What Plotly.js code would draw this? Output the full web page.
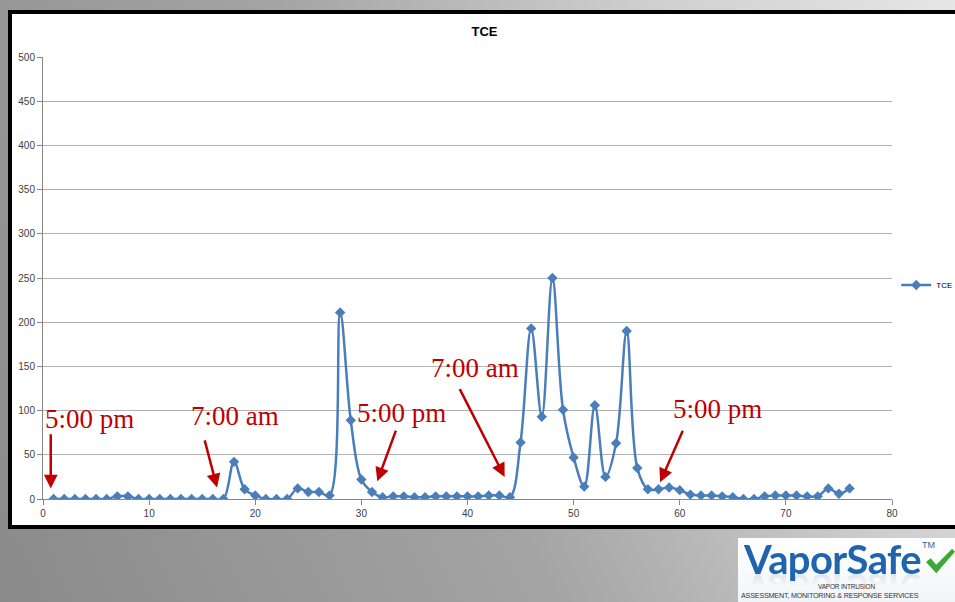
<!DOCTYPE html>
<html><head><meta charset="utf-8">
<script src="https://cdn.plot.ly/plotly-3.0.1.min.js"></script>
<style>
html,body{margin:0;padding:0;width:955px;height:602px;overflow:hidden}
body{position:relative;background:linear-gradient(65deg,#8a8a8a 0%,#a4a4a4 45%,#cfcfcf 75%,#e6e6e6 100%);font-family:"Liberation Sans",Arial,sans-serif}
#box{position:absolute;left:8px;top:10px;width:970px;height:511px;background:#fff;border:4px solid #000}
#chart{position:absolute;left:0;top:0;width:955px;height:602px}
#logo{position:absolute;left:738px;top:538px;width:217px;height:64px;background:linear-gradient(#ffffff,#f2f5f8)}
#logo .vs{position:absolute;left:6px;top:-3px;line-height:normal;font-size:40px;font-family:Lato,sans-serif;font-weight:bold;white-space:nowrap;letter-spacing:-0.6px;color:#1f64ad;
  -webkit-box-reflect:below -18px linear-gradient(transparent 55%, rgba(255,255,255,0.22))}
#logo .tm{position:absolute;left:184px;top:2px;font-size:9px;line-height:10px;color:#1f64ad}
#logo .l1{position:absolute;left:0;width:217px;text-align:center;top:45px;font-size:6.5px;line-height:7px;color:#333;letter-spacing:-0.2px}
#logo .l2{position:absolute;left:3px;top:54px;font-size:7.2px;line-height:8px;color:#333;white-space:nowrap;letter-spacing:-0.2px}
#logo svg{position:absolute;left:186px;top:9px}
</style></head>
<body>
<div id="box"></div>
<div id="chart"></div>
<div id="logo">
  <div class="vs">VaporSafe</div>
  <div class="tm">TM</div>
  <svg width="32" height="28" viewBox="0 0 34 30"><path d="M2 16 L7 12 L13 19 L30 2 L33 5 L13 28 Z" fill="#3aa935"/></svg>
  <div class="l1">VAPOR INTRUSION</div>
  <div class="l2">ASSESSMENT, MONITORING &amp; RESPONSE SERVICES</div>
</div>
<script>
var sampleIndex = [1,2,3,4,5,6,7,8,9,10,11,12,13,14,15,16,17,18,19,20,21,22,23,24,25,26,27,28,29,30,31,32,33,34,35,36,37,38,39,40,41,42,43,44,45,46,47,48,49,50,51,52,53,54,55,56,57,58,59,60,61,62,63,64,65,66,67,68,69,70,71,72,73,74,75,76];
var tceValues = [0,0,0,0,0,0,3,3,0,0,0,0,0,0,0,0,0,42,11,4,0,0,0,12,8,8,4,211,89,22,8,2,3,3,2,2,3,3,3,3,3,4,4,2,64,193,93,250,101,47,14,106,25,63,190,35,11,11,13,10,5,4,4,3,2,0,0,3,4,4,4,3,3,12,6,12];

var labelTexts = ["5:00 pm","7:00 am","5:00 pm","7:00 am","5:00 pm"];
var labelX = [4.4,18.1,33.8,40.7,63.6];
var labelY = [91,94,97,148,102];
var arrowTailX = [0.73,15.2,33.3,39.2,60.35];
var arrowTailY = [75,68,79,126,79];
var arrowHeadX = [0.73,16.4,31.5,43.5,58.15];
var arrowHeadY = [12,13,20,25,19];

var annots = [];
for (var i=0;i<labelTexts.length;i++){
  annots.push({x:labelX[i],y:labelY[i],xref:'x',yref:'y',text:labelTexts[i],showarrow:false,
    font:{family:'"Liberation Serif","Times New Roman",serif',size:27,color:'#c00000'},xanchor:'center',yanchor:'middle'});
  annots.push({x:arrowHeadX[i],y:arrowHeadY[i],xref:'x',yref:'y',ax:arrowTailX[i],ay:arrowTailY[i],axref:'x',ayref:'y',
    text:'',showarrow:true,arrowhead:2,arrowsize:1.1,arrowwidth:2.5,arrowcolor:'#c00000'});
}

var trace = {x:sampleIndex,y:tceValues,type:'scatter',mode:'lines+markers',name:'TCE',
  line:{color:'#4a7ebb',width:2.5,shape:'spline',smoothing:1},
  marker:{symbol:'diamond',size:8,color:'#4a7ebb'}};

var layout = {width:955,height:602,autosize:false,
  margin:{l:43,r:63,t:57,b:103,autoexpand:false},
  paper_bgcolor:'rgba(0,0,0,0)',plot_bgcolor:'rgba(0,0,0,0)',
  title:{text:'<b>TCE</b>',x:0.52,xref:'paper',xanchor:'center',y:0.947,yref:'container',yanchor:'middle',
    font:{family:'"Liberation Sans",Arial,sans-serif',size:13,color:'#000'}},
  xaxis:{range:[0,80],dtick:10,tick0:0,ticks:'outside',ticklen:5,tickcolor:'#868686',showline:true,linecolor:'#868686',linewidth:1,
    showgrid:false,zeroline:false,tickfont:{family:'"Liberation Sans",Arial,sans-serif',size:10,color:'#404040'}},
  yaxis:{range:[0,500],dtick:50,tick0:0,ticks:'outside',ticklen:5,tickcolor:'#868686',showline:true,linecolor:'#868686',linewidth:1,
    showgrid:true,gridcolor:'#b3b3b3',gridwidth:1,zeroline:false,tickfont:{family:'"Liberation Sans",Arial,sans-serif',size:10,color:'#404040'}},
  showlegend:true,
  legend:{x:1.005,y:0.484,xanchor:'left',yanchor:'middle',bgcolor:'rgba(0,0,0,0)',font:{family:'"Liberation Sans",Arial,sans-serif',size:8,color:'#000'}},
  annotations:annots
};
Plotly.newPlot('chart',[trace],layout,{staticPlot:true,displayModeBar:false});
</script>
</body></html>
